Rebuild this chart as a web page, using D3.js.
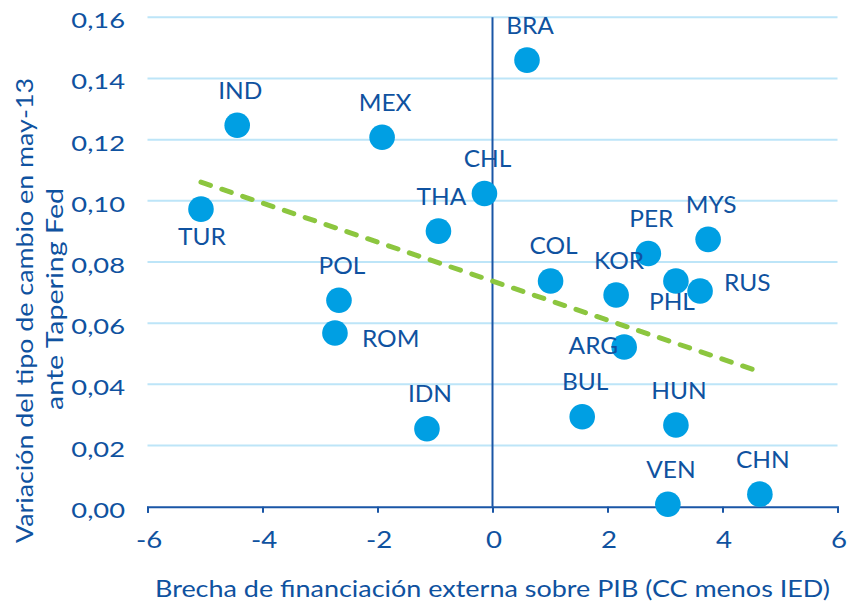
<!DOCTYPE html>
<html>
<head>
<meta charset="utf-8">
<script src="https://cdn.jsdelivr.net/npm/d3@7"></script>
<style>
  html, body { margin: 0; padding: 0; background: #ffffff; }
  svg { display: block; }
  text { font-family: Lato, "Open Sans", sans-serif; }
</style>
</head>
<body>
<script>
// ---------------- data ----------------
const countries = ["TUR","IND","MEX","BRA","CHL","THA","COL","KOR","PER","MYS","PHL","RUS","POL","ROM","ARG","IDN","BUL","HUN","VEN","CHN"];
const gapValues = [-5.07,-4.44,-1.92,0.60,-0.14,-0.94,1.01,2.15,2.71,3.75,3.19,3.61,-2.67,-2.74,2.29,-1.14,1.56,3.19,3.05,4.65];
const fxChange  = [0.0973,0.1247,0.1208,0.1460,0.1024,0.0901,0.0738,0.0692,0.0828,0.0874,0.0738,0.0705,0.0675,0.0568,0.0522,0.0255,0.0294,0.0267,0.0008,0.0041];
const trendX = [-5.07, 4.65];
const trendY = [0.1061, 0.0441];
const xTicks = [-6,-4,-2,0,2,4,6];
const yTicks = [0,0.02,0.04,0.06,0.08,0.10,0.12,0.14,0.16];
const xTitle = "Brecha de financiación externa sobre PIB (CC menos IED)";
const yTitleLines = ["Variación del tipo de cambio en may-13", "ante Tapering Fed"];

// label placement (style config)
const labelPlace = {
  TUR: {dx: 1, dy: 36, anchor: "middle"},
  PHL: {dx: -4, dy: 29, anchor: "middle"},
  ROM: {dx: 27, dy: 14, anchor: "start"},
  RUS: {dx: 24, dy: 0, anchor: "start"},
  ARG: {dx: -6, dy: 7, anchor: "end"}
};
const defaultPlace = {dx: 3, dy: -26.5, anchor: "middle"};

// ---------------- layout ----------------
const W = 849, H = 601;
const M = {left: 147.5, right: 11.5, top: 17.3, bottom: 94.3};
const TEXT = "#0f52a0", AXIS = "#1a56a6", DOT = "#009fe3", GRID = "#bde5f8", TREND = "#8cc63f";

const svg = d3.select("body").append("svg").attr("width", W).attr("height", H);

const x = d3.scaleLinear().domain([-6, 6]).range([M.left, W - M.right]);
const y = d3.scaleLinear().domain([0, 0.16]).range([H - M.bottom, M.top]);

const fmtY = v => d3.format(".2f")(v).replace(".", ",");

// gridlines
svg.append("g").selectAll("line").data(yTicks.filter(d => d > 0)).join("line")
  .attr("x1", x(-6)).attr("x2", x(6))
  .attr("y1", d => y(d)).attr("y2", d => y(d))
  .attr("stroke", GRID).attr("stroke-width", 2);

// y tick labels
const SXY = 1.3;
svg.append("g").selectAll("text").data(yTicks).join("text")
  .attr("transform", d => `translate(125,${y(d) + 11}) scale(${SXY},1)`)
  .attr("text-anchor", "end")
  .attr("font-size", 21)
  .attr("fill", TEXT)
  .text(fmtY);

// x axis
const xAxis = d3.axisBottom(x).tickValues(xTicks).tickSize(6).tickFormat("");
const gx = svg.append("g").attr("transform", `translate(0,${y(0)})`).call(xAxis);
gx.select(".domain").attr("stroke", AXIS).attr("stroke-width", 2);
gx.selectAll(".tick line").attr("stroke", AXIS).attr("stroke-width", 2);

const SXX = 1.15;
svg.append("g").selectAll("text").data(xTicks).join("text")
  .attr("transform", d => `translate(${x(d) + 1.5},548) scale(${SXX},1)`)
  .attr("text-anchor", "middle")
  .attr("font-size", 24)
  .attr("fill", TEXT)
  .text(d => String(d));

// vertical zero line
svg.append("line")
  .attr("x1", x(0)).attr("x2", x(0))
  .attr("y1", y(0.16)).attr("y2", y(0))
  .attr("stroke", AXIS).attr("stroke-width", 2);

// trend line
svg.append("line")
  .attr("x1", x(trendX[0])).attr("y1", y(trendY[0]))
  .attr("x2", x(trendX[1])).attr("y2", y(trendY[1]))
  .attr("stroke", TREND).attr("stroke-width", 5)
  .attr("stroke-dasharray", "10,12").attr("stroke-linecap", "round");

// points
const pts = countries.map((c, i) => ({c, gx: gapValues[i], fx: fxChange[i]}));
svg.append("g").selectAll("circle").data(pts).join("circle")
  .attr("cx", d => x(d.gx)).attr("cy", d => y(d.fx)).attr("r", 12.8)
  .attr("fill", DOT);

// labels
const SXL = 1.02;
svg.append("g").selectAll("text").data(pts).join("text")
  .each(function(d) {
    const p = labelPlace[d.c] || defaultPlace;
    d3.select(this)
      .attr("transform", `translate(${x(d.gx) + p.dx},${y(d.fx) + p.dy}) scale(${SXL},1)`)
      .attr("text-anchor", p.anchor);
  })
  .attr("font-size", 24)
  .attr("fill", TEXT)
  .text(d => d.c);

// x title
svg.append("text")
  .attr("x", (x(-6) + x(6)) / 2).attr("y", 596.5)
  .attr("text-anchor", "middle")
  .attr("font-size", 23)
  .attr("fill", TEXT)
  .attr("textLength", 675).attr("lengthAdjust", "spacingAndGlyphs")
  .text(xTitle);

// y title
const yTitlePos = [{bx: 33, cy: 310.5, len: 465}, {bx: 63, cy: 299, len: 222}];
yTitleLines.forEach((t, i) => {
  const p = yTitlePos[i];
  svg.append("text")
    .attr("transform", `translate(${p.bx},${p.cy}) rotate(-90)`)
    .attr("text-anchor", "middle")
    .attr("font-size", 23)
    .attr("fill", TEXT)
    .attr("textLength", p.len).attr("lengthAdjust", "spacingAndGlyphs")
    .text(t);
});
</script>
</body>
</html>
